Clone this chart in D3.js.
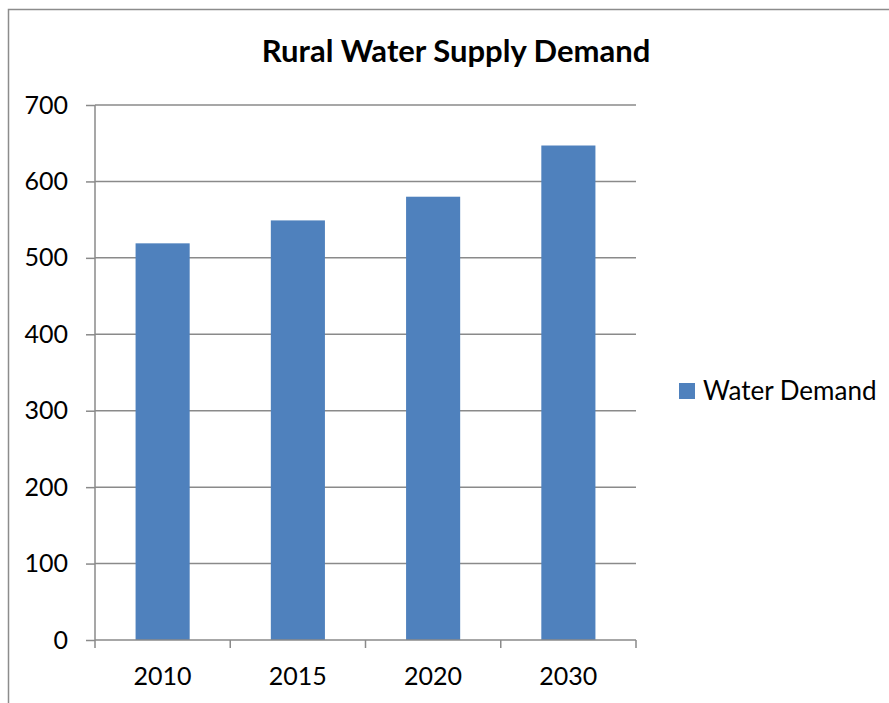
<!DOCTYPE html>
<html>
<head>
<meta charset="utf-8">
<script src="https://cdn.jsdelivr.net/npm/d3@7"></script>
<style>
  html, body { margin: 0; padding: 0; background: #ffffff; }
  svg { display: block; }
  text { font-family: Lato, "Open Sans", sans-serif; fill: #000; }
</style>
</head>
<body>
<svg id="chart" width="889" height="703"></svg>
<script>
// Rural water supply demand by year
const years = ["2010", "2015", "2020", "2030"];
const demand = [519, 549, 580, 647];
const yTicks = [0, 100, 200, 300, 400, 500, 600, 700];
const seriesName = "Water Demand";
const chartTitle = "Rural Water Supply Demand";

const svg = d3.select("#chart");
const W = 889, H = 703;
const plot = { left: 95, right: 636, top: 105, bottom: 640 };

// outer chart frame (runs past the right and bottom edges)
svg.append("rect")
  .attr("x", 8.5).attr("y", 9.5)
  .attr("width", W + 10).attr("height", H + 10)
  .attr("fill", "#fff").attr("stroke", "#8c8c8c").attr("stroke-width", 1.5);

const x = d3.scaleBand().domain(years).range([plot.left, plot.right]).paddingInner(0.6).paddingOuter(0.3);
const xEdge = d3.scaleBand().domain(years).range([plot.left, plot.right]);
const y = d3.scaleLinear().domain([0, 700]).range([plot.bottom, plot.top]);

// horizontal gridlines
svg.append("g")
  .selectAll("line").data(yTicks.filter(d => d > 0)).join("line")
  .attr("x1", plot.left).attr("x2", plot.right)
  .attr("y1", d => y(d)).attr("y2", d => y(d))
  .attr("stroke", "#8a8a8a").attr("stroke-width", 1.5);

// bars
svg.append("g")
  .selectAll("rect").data(years).join("rect")
  .attr("x", d => x(d))
  .attr("width", x.bandwidth())
  .attr("y", (d, i) => y(demand[i]))
  .attr("height", (d, i) => y(0) - y(demand[i]))
  .attr("fill", "#4f81bd");

// y axis
const yAxis = svg.append("g")
  .attr("transform", `translate(${plot.left},0)`)
  .call(d3.axisLeft(y).tickValues(yTicks).tickSize(9).tickPadding(18).tickFormat(d3.format("d")));
yAxis.select(".domain").attr("stroke", "#8a8a8a").attr("stroke-width", 1.5).attr("d", `M0,${plot.top}V${plot.bottom}`);
yAxis.selectAll(".tick line").attr("stroke", "#8a8a8a").attr("stroke-width", 1.5);
yAxis.selectAll(".tick text").style("font-size", "25px").attr("fill", "#000");

// x axis with ticks at category edges
const xAxis = svg.append("g").attr("transform", `translate(0,${plot.bottom})`);
xAxis.append("line")
  .attr("x1", plot.left).attr("x2", plot.right)
  .attr("stroke", "#8a8a8a").attr("stroke-width", 1.5);
const edges = years.map(d => xEdge(d)).concat([plot.right]);
xAxis.selectAll("line.edge").data(edges).join("line").attr("class", "edge")
  .attr("x1", d => d).attr("x2", d => d).attr("y1", 0).attr("y2", 8)
  .attr("stroke", "#8a8a8a").attr("stroke-width", 1.5);
xAxis.selectAll("text").data(years).join("text")
  .attr("x", d => xEdge(d) + xEdge.bandwidth() / 2)
  .attr("y", 45)
  .attr("text-anchor", "middle")
  .style("font-size", "25px")
  .text(d => d);

// title
svg.append("text")
  .attr("x", 456).attr("y", 62)
  .attr("text-anchor", "middle")
  .style("font-size", "31px").style("font-weight", "bold")
  .text(chartTitle);

// legend
const lg = svg.append("g").attr("transform", "translate(679,383)");
lg.append("rect").attr("width", 16).attr("height", 16).attr("fill", "#4f81bd");
lg.append("text").attr("x", 24).attr("y", 17).style("font-size", "26px").text(seriesName);
</script>
</body>
</html>
